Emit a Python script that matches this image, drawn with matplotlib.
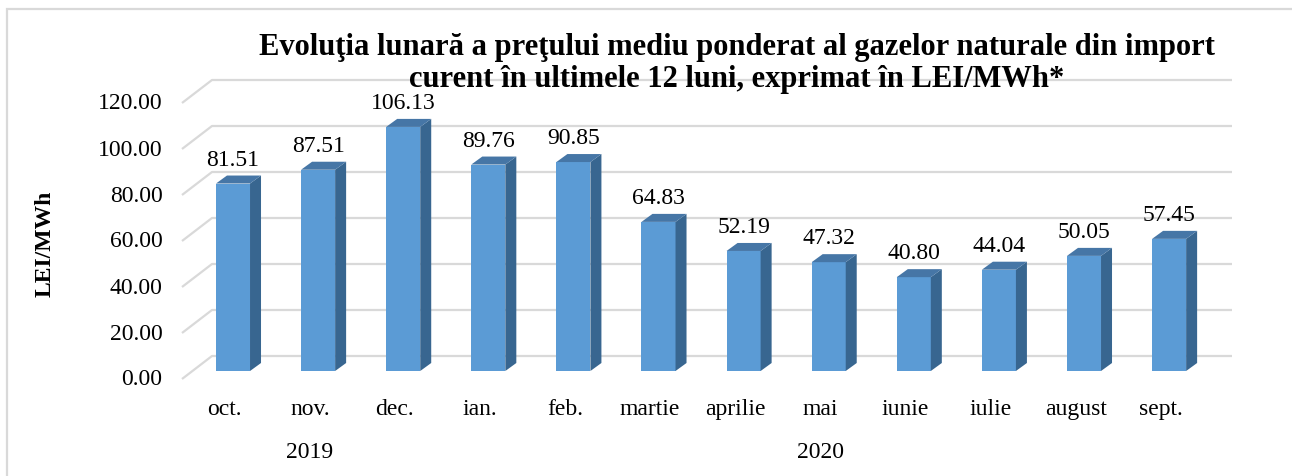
import matplotlib.pyplot as plt
from matplotlib.patches import Polygon, Rectangle
import numpy as np

plt.rcParams['font.family'] = ['Liberation Serif', 'DejaVu Serif']

# data
months = ["oct.", "nov.", "dec.", "ian.", "feb.", "martie", "aprilie",
          "mai", "iunie", "iulie", "august", "sept."]
prices = [81.51, 87.51, 106.13, 89.76, 90.85, 64.83, 52.19,
          47.32, 40.80, 44.04, 50.05, 57.45]
years = ["2019", "2020"]
year_groups = [(0, 2), (3, 11)]
yticks = [0, 20, 40, 60, 80, 100, 120]

title_lines = ["Evoluţia lunară a preţului mediu ponderat al gazelor naturale din import",
               "curent în ultimele 12 luni, exprimat în LEI/MWh*"]

W, H = 1292, 477
fig = plt.figure(figsize=(W / 100, H / 100), dpi=100)

# pixel layout of the plot box (front-left edge to right end of back wall)
px_left, px_right = 182, 1232
px_top, px_bottom = 81, 380
px_bar0 = 372          # y pixel of value 0 at the bars' front face
px_per_unit = 2.3
px_cat0, px_step = 233, 85.1

ax = fig.add_axes([px_left / W, 1 - px_bottom / H,
                   (px_right - px_left) / W, (px_bottom - px_top) / H])
xmin = (px_left - px_cat0) / px_step
xmax = (px_right - px_cat0) / px_step
ymin = -(px_bottom - px_bar0) / px_per_unit
ymax = (px_bar0 - px_top) / px_per_unit
ax.set_xlim(xmin, xmax)
ax.set_ylim(ymin, ymax)
ax.axis('off')

# 3d offsets
back_dy = 15 / px_per_unit           # back wall above bar zero
front_dy = ymin                      # floor front edge
x_back = (212 - px_cat0) / px_step
dx = 11 / px_step
dy = 8 / px_per_unit
bw = 0.4
fs = 17

grid_c = '#D9D9D9'
for v in yticks:
    ax.plot([xmin, x_back, xmax], [v + front_dy, v + back_dy, v + back_dy],
            color=grid_c, lw=1.6, zorder=1, clip_on=False, solid_capstyle='butt')
    ax.text(xmin - 0.23, v + front_dy, f"{v:.2f}", ha='right', va='center',
            fontsize=fs, color='black')

x = np.arange(len(months))
ax.bar(x, prices, width=bw, color='#5B9BD5', zorder=3)
for xi, v in zip(x, prices):
    r = xi + bw / 2
    l = xi - bw / 2
    side = Polygon([(r, 0), (r + dx, dy), (r + dx, v + dy), (r, v)],
                   closed=True, fc='#386690', ec='none', zorder=3)
    top = Polygon([(l, v), (l + dx, v + dy), (r + dx, v + dy), (r, v)],
                  closed=True, fc='#4676A6', ec='none', zorder=3)
    ax.add_patch(side)
    ax.add_patch(top)
    ax.annotate(f"{v:.2f}", (xi, v), xytext=(0, 17.5), textcoords='offset points',
                ha='center', va='center', fontsize=fs, zorder=4)

# category and year labels
for xi, m in zip(x, months):
    ax.annotate(m, (xi, ymin), xytext=(-6, -(410 - px_bottom) * 0.72),
                textcoords='offset points', ha='center', va='center', fontsize=fs)
for yr, (a, b) in zip(years, year_groups):
    ax.annotate(yr, ((a + b) / 2, ymin), xytext=(-6, -(453 - px_bottom) * 0.72),
                textcoords='offset points', ha='center', va='center', fontsize=fs)

fig.text(45 / W, 1 - 244 / H, "LEI/MWh", rotation=90, ha='center', va='center',
         fontsize=fs, fontweight='bold')
for line, base in zip(title_lines, [55, 87]):
    fig.text(737 / W, 1 - base / H, line, ha='center', va='baseline', fontsize=22,
             fontweight='bold')

# outer chart border
fig.patches.append(Rectangle((7 / W, -0.1), 1.2, 1 - 10 / H + 0.1,
                             transform=fig.transFigure, fill=False,
                             ec='#D9D9D9', lw=1.6))

fig.savefig("out.png", dpi=100)
